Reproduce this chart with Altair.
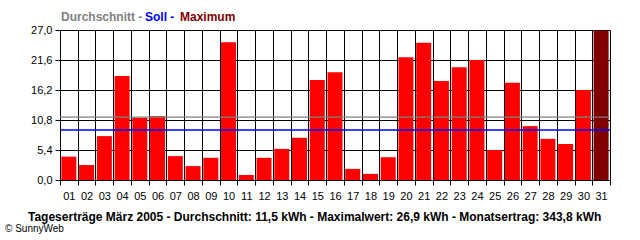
import altair as alt
import pandas as pd

days = [f"{i:02d}" for i in range(1, 32)]
values = [4.2, 2.7, 7.9, 18.7, 11.2, 11.5, 4.3, 2.5, 4.0, 24.8, 0.9, 4.0, 5.6, 7.6,
          18.0, 19.4, 2.0, 1.1, 4.1, 22.1, 24.7, 17.8, 20.3, 21.6, 5.4, 17.5, 9.7,
          7.4, 6.5, 16.2, 26.9]
average = 11.3
target = 9.0
y_ticks = [0, 5.4, 10.8, 16.2, 21.6, 27.0]
footer = "Tageserträge März 2005 - Durchschnitt: 11,5 kWh - Maximalwert: 26,9 kWh - Monatsertrag: 343,8 kWh"
copyright_text = "© SunnyWeb"

vmax = max(values)
df = pd.DataFrame({"day": days, "value": values, "is_max": [v == vmax for v in values]})

W, H = 550, 150
NARROW = "Liberation Sans Narrow, Liberation Sans, Arial"
BOLD = "Liberation Sans, Arial"

x_enc = alt.X(
    "day:O",
    scale=alt.Scale(paddingInner=0, paddingOuter=0),
    axis=alt.Axis(
        title=None, labelAngle=0, tickBand="extent", grid=True, gridColor="black",
        gridOpacity=1, tickColor="black", domainColor="black", tickSize=5,
        labelFont=NARROW, labelFontSize=11, labelColor="black", labelPadding=5,
    ),
)


def y_axis():
    return alt.Axis(
        title=None, values=y_ticks, grid=True, gridColor="black", gridOpacity=1,
        tickColor="black", domainColor="black", tickSize=5, labelPadding=3,
        labelFont=NARROW, labelFontSize=11, labelColor="black",
        labelOverlap=False, labelFlush=False, tickCount=6,
        labelExpr="replace(format(datum.value, '.1f'), '.', ',')",
    )


y_scale = alt.Scale(domain=[0, 27], nice=False, zero=True)

bars = alt.Chart(df).mark_bar(width=alt.RelativeBandSize(0.845)).encode(
    x=x_enc,
    y=alt.Y("value:Q", scale=y_scale, axis=y_axis()),
    color=alt.condition(alt.datum.is_max, alt.value("#800000"), alt.value("#ff0000")),
)

lines_df = pd.DataFrame({"value": [average, target], "c": ["#808080", "#0000ff"]})
hlines = alt.Chart(lines_df).mark_rule(strokeWidth=1.3).encode(
    y=alt.Y("value:Q", scale=y_scale, axis=y_axis()),
    color=alt.Color("c:N", scale=None),
)


def label(text, x, y, color, size, weight="normal", font=BOLD):
    return alt.Chart(pd.DataFrame({"t": [text]})).mark_text(
        align="left", baseline="alphabetic", fontSize=size, fontWeight=weight,
        font=font, color=color,
    ).encode(x=alt.value(x), y=alt.value(y), text="t:N")


texts = [
    label("Durchschnitt -", 1, -9.5, "#808080", 12, "bold"),
    label("Soll -", 85, -9.5, "#0000ff", 12, "bold"),
    label("Maximum", 120, -9.5, "#800000", 12, "bold"),
    label(footer, -32, 191, "black", 12, "bold"),
    label(copyright_text, -55, 202, "black", 10),
]

chart = alt.layer(bars, hlines, *texts).properties(
    width=W, height=H,
    padding={"left": 60, "top": 30, "right": 30, "bottom": 60},
    autosize=alt.AutoSizeParams(type="none"),
).configure_view(stroke="black", strokeWidth=1).configure(background="white")

chart.save("out.html", embed_options={"renderer": "svg", "actions": False})
